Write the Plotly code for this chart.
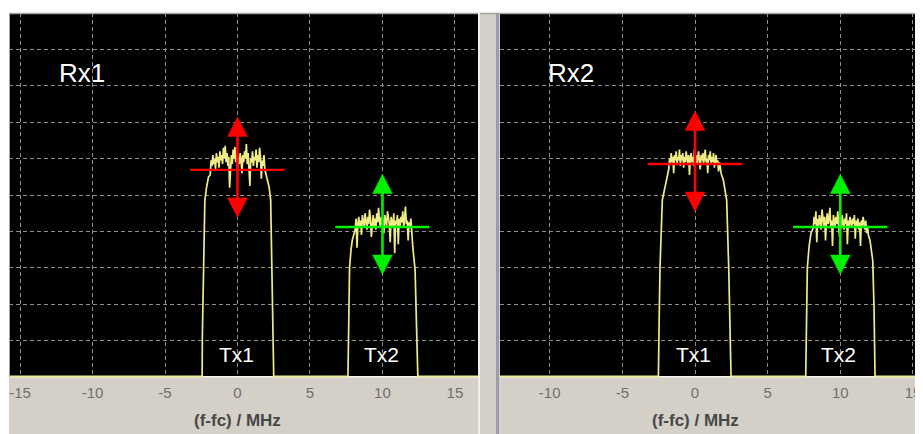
import numpy as np
import plotly.graph_objects as go

# ---------------- data ----------------
tick_vals = [-15, -10, -5, 0, 5, 10, 15]
tick_text = ["-15", "-10", "-5", "0", "5", "10", "15"]

floor_level = 0.015
floor_start_f = -17.0
floor_end_f = 17.0

# Rx1 / Tx1
rx1_tx1_left_f = [-2.44, -2.42, -2.36, -2.25, -2.13, -2.00]
rx1_tx1_left_v = [floor_level, 1.2, 3.0, 4.86, 5.22, 5.50]
rx1_tx1_span = [-1.88, 1.95]
rx1_tx1_plateau = [5.55, 5.95, 5.80, 6.10, 5.85, 6.00, 5.70, 6.15, 5.90, 6.05, 5.75, 6.20, 5.95, 6.10, 5.85, 6.30,
                   6.00, 6.35, 5.90, 6.15, 5.80, 6.05, 5.20, 5.95, 6.10, 5.85, 6.25, 6.00, 6.32, 5.90, 6.10, 5.65,
                   6.05, 5.85, 6.15, 5.95, 5.60, 6.10, 5.90, 6.20, 6.00, 6.40, 5.85, 6.15, 5.70, 5.25, 6.00, 5.90,
                   6.20, 5.80, 6.05, 5.95, 6.25, 5.75, 6.10, 5.90, 6.30, 6.05, 5.45, 5.95, 5.80, 6.10, 5.70, 5.60]
rx1_tx1_right_f = [2.04, 2.18, 2.29, 2.39, 2.45, 2.50]
rx1_tx1_right_v = [5.50, 5.22, 4.86, 3.0, 1.2, floor_level]

# Rx1 / Tx2
rx1_tx2_left_f = [7.62, 7.66, 7.73, 7.83, 7.92, 8.05]
rx1_tx2_left_v = [floor_level, 1.2, 3.0, 3.49, 3.76, 3.95]
rx1_tx2_span = [8.12, 12.02]
rx1_tx2_plateau = [4.05, 4.35, 3.55, 4.20, 4.40, 4.10, 4.30, 3.90, 4.45, 4.25, 4.15, 4.50, 4.30, 4.05, 4.40, 4.20,
                   4.60, 4.35, 3.85, 4.25, 4.45, 4.15, 4.35, 4.05, 4.50, 4.25, 4.65, 4.30, 4.10, 4.40, 4.20, 4.35,
                   3.95, 4.45, 4.25, 4.15, 4.55, 4.30, 4.20, 3.70, 4.40, 4.25, 4.10, 4.50, 3.40, 4.30, 4.20, 4.45,
                   3.65, 4.35, 4.15, 4.40, 4.25, 4.55, 4.10, 4.35, 4.68, 4.20, 4.30, 3.75, 4.25, 4.15, 4.35, 4.00]
rx1_tx2_right_f = [12.09, 12.25, 12.36, 12.44]
rx1_tx2_right_v = [3.58, 2.94, 1.5, floor_level]

# Rx2 / Tx1
rx2_tx1_left_f = [-2.52, -2.48, -2.41, -2.25, -2.11, -1.95]
rx2_tx1_left_v = [floor_level, 1.2, 3.0, 4.86, 5.14, 5.41]
rx2_tx1_span = [-1.81, 1.79]
rx2_tx1_plateau = [5.70, 6.00, 5.85, 6.15, 5.90, 6.05, 5.60, 6.10, 5.95, 6.20, 5.85, 6.05, 5.95, 6.25, 5.80, 6.10,
                   5.95, 6.15, 5.75, 6.05, 5.90, 6.20, 6.00, 5.85, 6.10, 5.55, 6.00, 6.15, 5.90, 6.05, 5.80, 6.25,
                   5.95, 6.10, 5.85, 6.00, 6.20, 5.90, 5.70, 6.10, 5.95, 6.15, 5.85, 6.05, 6.25, 5.90, 6.00, 5.60,
                   6.10, 5.95, 6.20, 5.85, 6.05, 5.90, 6.15, 5.75, 6.00, 6.10, 5.85, 5.95, 5.65, 5.90, 5.80, 5.60]
rx2_tx1_right_f = [1.95, 2.06, 2.18, 2.32, 2.41, 2.48]
rx2_tx1_right_v = [5.41, 5.14, 4.86, 3.0, 1.2, floor_level]

# Rx2 / Tx2
rx2_tx2_left_f = [7.62, 7.66, 7.73, 7.85, 7.98]
rx2_tx2_left_v = [floor_level, 1.2, 3.0, 3.58, 3.95]
rx2_tx2_span = [8.14, 11.93]
rx2_tx2_plateau = [4.10, 4.40, 4.20, 4.55, 3.70, 4.35, 4.15, 4.45, 4.25, 4.05, 4.60, 4.30, 4.15, 4.40, 3.75, 4.25,
                   4.50, 4.20, 4.35, 4.65, 4.10, 4.30, 3.60, 4.45, 4.25, 4.15, 4.40, 4.20, 4.55, 4.30, 3.85, 4.35,
                   4.10, 4.45, 4.25, 4.05, 4.35, 4.20, 4.50, 3.65, 4.30, 4.15, 4.40, 4.25, 4.10, 4.35, 4.20, 4.45,
                   3.80, 4.30, 4.15, 4.35, 4.05, 4.25, 3.60, 4.30, 4.15, 4.40, 4.20, 4.05, 4.30, 3.95, 4.15, 3.90]
rx2_tx2_right_f = [12.04, 12.23, 12.32, 12.39]
rx2_tx2_right_v = [3.76, 3.21, 1.9, floor_level]

# power-level markers (carrier centre frequency, level)
carrier_f = [0.0, 10.0]
rx1_marker_level = [5.69, 4.12]
rx2_marker_level = [5.85, 4.12]
carrier_names = ["Tx1", "Tx2"]
panel_names = ["Rx1", "Rx2"]

# ---------------- styling ----------------
OFF = 8                 # page body margin of the browser
SCREEN_W, SCREEN_H = 923, 434
W, H = SCREEN_W - OFF, SCREEN_H - OFF
GRAY = "#d4d0c8"
YEL = "#efec86"
MARK_COL = ["#ff0000", "#00f000"]
FONT = "Liberation Sans, Arial, sans-serif"

PLOT_TOP, PLOT_BOT = 13, 377
L_X0, L_X1 = 9, 478
R_X0, R_X1 = 500, 923


def px_x(p):
    return (p - OFF) / W


def px_y(p):
    return (SCREEN_H - p) / H


def build(parts):
    f, v = [floor_start_f], [floor_level]
    for lf, lv, span, pv, rf, rv in parts:
        f += lf
        v += lv
        f += list(np.linspace(span[0], span[1], len(pv)))
        v += pv
        f += rf
        v += rv
    f.append(floor_end_f)
    v.append(floor_level)
    return f, v


rx1_f, rx1_v = build([
    (rx1_tx1_left_f, rx1_tx1_left_v, rx1_tx1_span, rx1_tx1_plateau, rx1_tx1_right_f, rx1_tx1_right_v),
    (rx1_tx2_left_f, rx1_tx2_left_v, rx1_tx2_span, rx1_tx2_plateau, rx1_tx2_right_f, rx1_tx2_right_v),
])
rx2_f, rx2_v = build([
    (rx2_tx1_left_f, rx2_tx1_left_v, rx2_tx1_span, rx2_tx1_plateau, rx2_tx1_right_f, rx2_tx1_right_v),
    (rx2_tx2_left_f, rx2_tx2_left_v, rx2_tx2_span, rx2_tx2_plateau, rx2_tx2_right_f, rx2_tx2_right_v),
])

fig = go.Figure()

HALF_W = 3.25      # horizontal bar half width (MHz)
UP_TIP, DN_TIP = 1.45, 1.30   # arrow tip offsets (divisions)
HEAD_H, HEAD_HW = 0.53, 0.68

for (f, v, levels, xa, ya) in [(rx1_f, rx1_v, rx1_marker_level, "x", "y"),
                                (rx2_f, rx2_v, rx2_marker_level, "x2", "y2")]:
    fig.add_trace(go.Scatter(x=f, y=v, mode="lines", line=dict(color=YEL, width=1.7),
                             xaxis=xa, yaxis=ya, hoverinfo="skip"))
    for c, L, col in zip(carrier_f, levels, MARK_COL):
        fig.add_trace(go.Scatter(x=[c - HALF_W, c + HALF_W], y=[L, L], mode="lines",
                                 line=dict(color=col, width=2.4), xaxis=xa, yaxis=ya))
        fig.add_trace(go.Scatter(x=[c, c], y=[L - DN_TIP + HEAD_H * 0.5, L + UP_TIP - HEAD_H * 0.5],
                                 mode="lines", line=dict(color=col, width=2.6), xaxis=xa, yaxis=ya))
        fig.add_trace(go.Scatter(x=[c, c - HEAD_HW, c + HEAD_HW, c],
                                 y=[L + UP_TIP, L + UP_TIP - HEAD_H, L + UP_TIP - HEAD_H, L + UP_TIP],
                                 mode="lines", fill="toself", fillcolor=col, line=dict(color=col, width=0.5),
                                 xaxis=xa, yaxis=ya))
        fig.add_trace(go.Scatter(x=[c, c - HEAD_HW, c + HEAD_HW, c],
                                 y=[L - DN_TIP, L - DN_TIP + HEAD_H, L - DN_TIP + HEAD_H, L - DN_TIP],
                                 mode="lines", fill="toself", fillcolor=col, line=dict(color=col, width=0.5),
                                 xaxis=xa, yaxis=ya))

grid = dict(showgrid=True, gridcolor="#8e8e8e", gridwidth=1, griddash="4px,3px", zeroline=False,
            showline=False)
xcommon = dict(tickvals=tick_vals, ticktext=tick_text, ticks="outside", ticklen=2,
               tickcolor="rgba(0,0,0,0)", tickfont=dict(family=FONT, size=15, color="#6e6e6e"), **grid)
ycommon = dict(range=[0, 10], dtick=1, tick0=0, showticklabels=False, ticks="",
               domain=[px_y(PLOT_BOT), px_y(PLOT_TOP)], **grid)

fig.update_layout(
    width=W, height=H, autosize=False, margin=dict(l=0, r=0, t=0, b=0),
    paper_bgcolor=GRAY, plot_bgcolor="#000000", showlegend=False,
    xaxis=dict(domain=[px_x(L_X0), px_x(L_X1)], range=[-15.76, 16.59], anchor="y", **xcommon),
    xaxis2=dict(domain=[px_x(R_X0), px_x(R_X1)], range=[-13.42, 15.69], anchor="y2", **xcommon),
    yaxis=dict(anchor="x", **ycommon),
    yaxis2=dict(anchor="x2", **ycommon),
)

shapes = [
    dict(type="rect", xref="paper", yref="paper", x0=0, x1=1, y0=px_y(PLOT_TOP), y1=1,
         fillcolor="#ffffff", line=dict(width=0), layer="below"),
    dict(type="rect", xref="paper", yref="paper", x0=0, x1=px_x(L_X0), y0=0, y1=1,
         fillcolor="#ffffff", line=dict(width=0), layer="below"),
    # light highlight along the bottom of each display (hidden by the trace floor)
    dict(type="line", xref="paper", yref="paper", x0=px_x(L_X0), x1=px_x(L_X1), y0=px_y(PLOT_BOT - 0.3),
         y1=px_y(PLOT_BOT - 0.3), line=dict(color="#f4f4f0", width=1.6), layer="below"),
    dict(type="line", xref="paper", yref="paper", x0=px_x(R_X0), x1=1, y0=px_y(PLOT_BOT - 0.3),
         y1=px_y(PLOT_BOT - 0.3), line=dict(color="#f4f4f0", width=1.6), layer="below"),
    dict(type="line", xref="paper", yref="paper", x0=px_x(L_X0), x1=1, y0=px_y(PLOT_TOP + 0.5),
         y1=px_y(PLOT_TOP + 0.5), line=dict(color="#a4a4a4", width=1.5)),
    dict(type="line", xref="paper", yref="paper", x0=px_x(L_X0 + 0.5), x1=px_x(L_X0 + 0.5),
         y0=px_y(PLOT_TOP), y1=px_y(PLOT_BOT), line=dict(color="#a4a4a4", width=1)),
    dict(type="line", xref="paper", yref="paper", x0=px_x(L_X1 + 1), x1=px_x(L_X1 + 1),
         y0=0, y1=px_y(PLOT_TOP), line=dict(color="#f2f0ec", width=2)),
    dict(type="line", xref="paper", yref="paper", x0=px_x(R_X0 - 2.5), x1=px_x(R_X0 - 2.5),
         y0=0, y1=px_y(PLOT_TOP), line=dict(color="#9c9cae", width=3)),
]
fig.update_layout(shapes=shapes)

annotations = []
for name, xp in zip(panel_names, [81.5, 571]):
    annotations.append(dict(text=name, xref="paper", yref="paper", x=px_x(xp), y=px_y(73),
                            xanchor="center", yanchor="middle", showarrow=False,
                            font=dict(family=FONT, size=26, color="#ffffff")))
for xa, ya in [("x", "y"), ("x2", "y2")]:
    for c, nm in zip(carrier_f, carrier_names):
        annotations.append(dict(text=nm, xref=xa, yref=ya, x=c - 0.1, y=0.63,
                                xanchor="center", yanchor="middle", showarrow=False,
                                font=dict(family=FONT, size=21, color="#ffffff")))
    annotations.append(dict(text="<b>(f-fc) / MHz</b>", xref=xa, yref="paper", x=0, y=px_y(420),
                            xanchor="center", yanchor="middle", showarrow=False,
                            font=dict(family=FONT, size=17, color="#474747")))
fig.update_layout(annotations=annotations)

fig.write_html("out.html")
